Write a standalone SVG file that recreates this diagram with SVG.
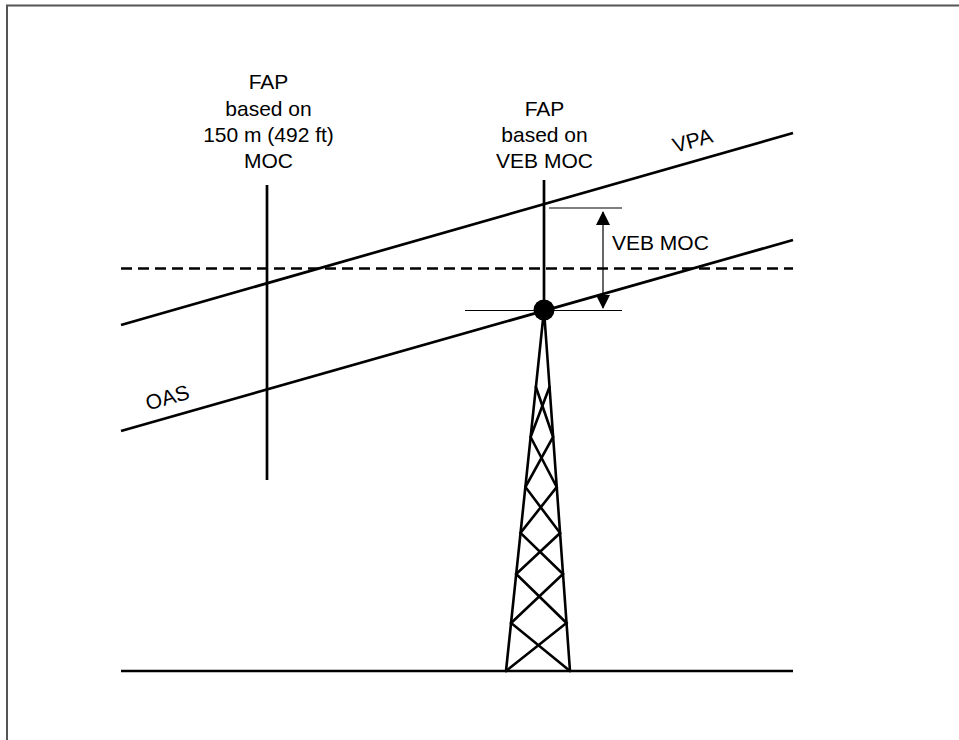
<svg xmlns="http://www.w3.org/2000/svg" width="959" height="740" viewBox="0 0 959 740">
<defs>
<style>
.t{font-family:"Liberation Sans",Arial,sans-serif;font-size:21px;fill:#000}
.c{text-anchor:middle}
.thick{stroke:#000;stroke-width:2.7;fill:none;stroke-linecap:butt}
.thin{stroke:#000;stroke-width:1.2;fill:none}
.tw{stroke:#000;stroke-width:2.6;fill:none;stroke-linecap:round}
</style>
<marker id="ah" viewBox="0 0 14 14" refX="13" refY="7" markerWidth="14" markerHeight="14" markerUnits="userSpaceOnUse" orient="auto-start-reverse">
<path d="M0,0 L14,7 L0,14 Z" fill="#000"/>
</marker>
</defs>
<rect width="959" height="740" fill="#fff"/>
<path d="M7,742 V5.5 H961" fill="none" stroke="#555" stroke-width="2"/>

<g id="surfaces">
<line id="vpa" class="thick" x1="121" y1="325" x2="793" y2="133"/>
<line id="oas" class="thick" x1="121" y1="431" x2="793" y2="240"/>
<line id="dashed" class="thick" x1="121" y1="268.5" x2="793" y2="268.5" stroke-dasharray="11,6"/>
<line id="ground" class="thick" x1="121" y1="671" x2="793" y2="671" stroke-width="3"/>
</g>

<g id="fap-150">
<line class="thick" x1="267" y1="185" x2="267" y2="480"/>
<text class="t c" x="268.5" y="89">FAP</text>
<text class="t c" x="268.5" y="115.5">based on</text>
<text class="t c" x="268.5" y="142">150 m (492 ft)</text>
<text class="t c" x="268.5" y="168.3">MOC</text>
</g>

<g id="fap-veb">
<line class="thick" x1="544" y1="180" x2="544" y2="310" stroke-width="3"/>
<text class="t c" x="544.5" y="115.5">FAP</text>
<text class="t c" x="544.5" y="142">based on</text>
<text class="t c" x="544.5" y="168.3">VEB MOC</text>
</g>

<g id="connectors">
<line class="thin" x1="549" y1="208" x2="622" y2="208"/>
<line class="thin" x1="465" y1="310.5" x2="622" y2="310.5"/>
<line x1="603" y1="212" x2="603" y2="308" stroke="#000" stroke-width="1.2" marker-start="url(#ah)" marker-end="url(#ah)"/>
</g>

<g id="veb-label">
<text class="t" x="612" y="250">VEB MOC</text>
</g>
<g id="vpa-label">
<text class="t" x="675" y="153" transform="rotate(-16 675 153)">VPA</text>
</g>
<g id="oas-label">
<text class="t" x="148" y="410.5" transform="rotate(-15.9 148 410.5)">OAS</text>
</g>

<g id="tower">
<path class="tw" d="M544,310 L506,671 M544,310 L570,671"/>
<path class="tw" d="M535.9,387 L553.1,437 L525.4,487 L560.1,533 L516.2,574 L566.5,623 L506,671"/>
<path class="tw" d="M549.5,387 L530.6,437 L556.7,487 L520.5,533 L563,574 L511.1,623 L570,671"/>
<circle cx="544" cy="310" r="10.5" fill="#000"/>
</g>
</svg>
